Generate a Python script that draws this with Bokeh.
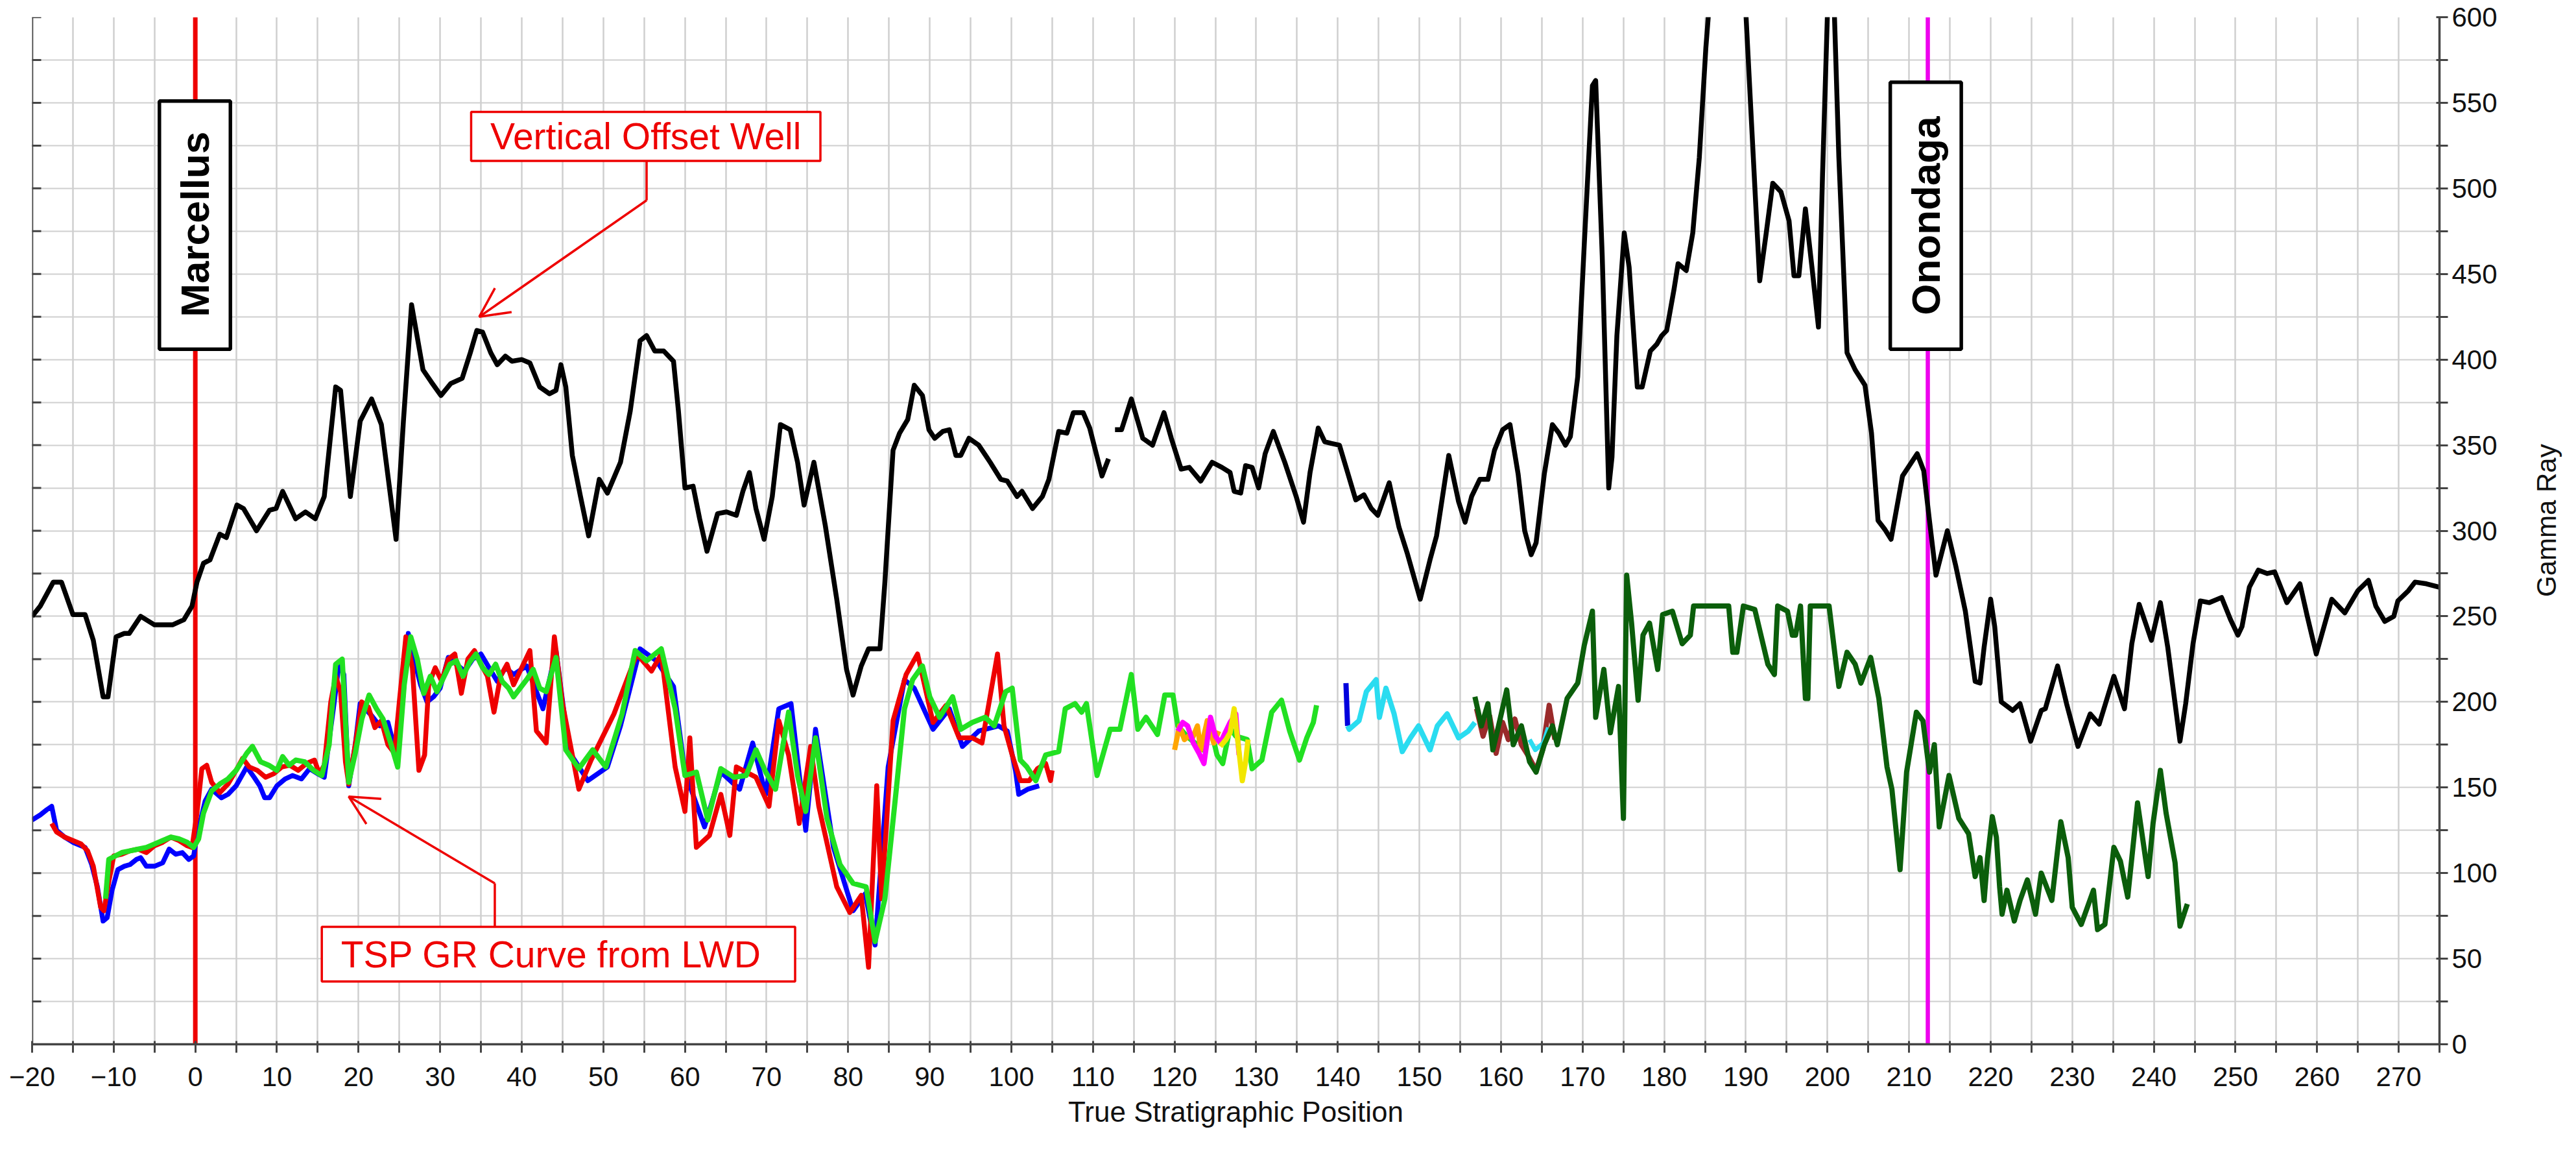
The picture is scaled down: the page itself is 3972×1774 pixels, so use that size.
import math
import numpy as np
from bokeh.plotting import figure
from bokeh.layouts import row
from bokeh.core.properties import value
from bokeh.models import (Range1d, FixedTicker, Span, Label, Arrow, OpenHead, BoxAnnotation)
from bokeh.embed import file_html
from bokeh.resources import INLINE

# ---------------- data ----------------
x_ticks = list(range(-20, 271, 10))
x_minor = list(range(-15, 276, 10))
y_ticks = list(range(0, 601, 50))
y_minor = list(range(25, 600, 50))
left_ticks = list(range(0, 601, 25))

offset_x = [-20, -19, -17.4, -16.4, -15, -13.5, -12.5, -11.3, -10.7, -9.7, -8.7, -8.1, -6.7, -5, -2.8, -1.4,
            -0.4, 0.2, 1.0, 1.8, 3.0, 3.8, 5.1, 5.9, 7.5, 9.1, 9.9, 10.7, 12.3, 13.5, 14.7, 15.8, 17.2, 17.8,
            19.0, 20.2, 21.6, 22.8, 24.6, 25.5, 26.5, 27.9, 28.9, 30.1, 31.3, 32.7, 33.7, 34.5, 35.2, 36.2,
            37.0, 38.0, 38.8, 40.0, 41.0, 42.2, 43.4, 44.2, 44.8, 45.4, 46.2, 47.2, 48.2, 49.5, 50.5, 52.1,
            53.3, 54.5, 55.3, 56.3, 57.4, 58.6, 59.2, 60.0, 61.0, 61.8, 62.7, 64.0, 65.1, 66.3, 67.1, 67.9,
            68.7, 69.7, 70.7, 71.7, 72.9, 73.8, 74.6, 75.8, 77.2, 78.6, 79.8, 80.6, 81.6, 82.5, 83.9, 84.5,
            85.5, 86.3, 87.3, 88.1, 89.1, 89.9, 90.6, 91.6, 92.4, 93.2, 93.8, 94.8, 96.0, 97.4, 98.7, 99.5,
            100.7, 101.3, 102.6, 103.8, 104.6, 105.8, 106.8, 107.6, 108.8, 109.6, 111.1, 111.9, 112.3,
            112.7, 113.5, 114.7, 116.1, 117.3, 118.7, 119.6, 120.8, 121.8, 123.2, 124.6, 125.8, 126.8,
            127.3, 128.1, 128.7, 129.5, 130.3, 131.1, 132.1, 133.5, 134.9, 135.8, 136.6, 137.6, 138.4,
            139.2, 140.2, 141.2, 142.2, 143.2, 144.1, 144.9, 146.3, 147.5, 148.5, 150.1, 151.3, 152.1,
            153.6, 154.8, 155.6, 156.4, 157.4, 158.4, 159.2, 160.2, 161.1, 162.1, 162.9, 163.7, 164.3,
            165.3, 166.3, 167.1, 167.9, 168.5, 169.4, 170.2, 171.2, 171.6, 172.4, 173.2, 173.6, 174.2,
            175.1, 175.7, 176.7, 177.3, 178.3, 179.1, 179.7, 180.3, 181.2, 181.7, 182.7, 183.5, 184.3,
            185.1, 185.8, 187.5, 189.6, 190.7, 191.7, 192.5, 193.3, 194.3, 195.3, 195.9, 196.5, 197.3,
            198.1, 198.9, 199.4, 200.0, 200.4, 200.8, 201.4, 202.4, 203.4, 204.6, 205.4, 206.2, 207.0,
            207.8, 209.2, 211.0, 211.8, 212.5, 213.3, 214.7, 215.7, 216.9, 218.1, 218.7, 219.2, 220.0,
            220.5, 221.3, 222.7, 223.6, 224.9, 226.2, 226.7, 228.2, 229.3, 230.7, 232.2, 233.3, 235.1,
            236.4, 237.3, 238.2, 239.7, 240.8, 241.7, 243.2, 243.9, 244.8, 245.7, 246.8, 248.3, 249.4,
            250.3, 250.8, 251.7, 252.8, 253.9, 254.8, 256.3, 257.9, 258.8, 259.9, 261.8, 263.4, 265.0,
            266.3, 267.2, 268.3, 269.4, 269.9, 271.2, 272.0, 273.4, 275.0]
offset_y = [250, 256, 270, 270, 251, 251, 236, 203, 203, 238, 240, 240, 250, 245, 245, 248,
            256, 270, 281, 283, 298, 296, 315, 313, 300, 312, 313, 323, 307, 311, 307, 320, 384, 382,
            320, 364, 377, 362, 295, 364, 432, 394, 387, 379, 386, 389, 404, 417, 416, 404,
            397, 402, 399, 400, 398, 384, 380, 382, 397, 384, 344, 320, 297, 330, 322, 340,
            370, 411, 414, 405, 405, 399, 370, 325, 326, 307, 288, 310, 311, 309, 323, 334,
            313, 295, 320, 362, 359, 340, 315, 340, 303, 260, 219, 204, 221, 231, 231, 270,
            347, 357, 365, 385, 379, 359, 354, 358, 359, 344, 344, 354, 350, 340, 330, 329,
            320, 323, 313, 320, 330, 358, 357, 369, 369, 360, 332, 342, float("nan"),
            359, 359, 377, 354, 350, 369, 354, 336, 337, 329, 340, 337, 334,
            323, 322, 338, 337, 325, 345, 358, 340, 320, 305, 334, 360, 352,
            351, 350, 334, 318, 321, 313, 309, 328, 302, 287, 260, 283, 297,
            344, 317, 305, 320, 330, 330, 347, 359, 362, 333, 300, 286, 293,
            333, 362, 357, 350, 355, 390, 467, 560, 563, 461, 325, 343, 414,
            474, 454, 384, 384, 405, 409, 414, 417, 441, 456, 452, 474, 518,
            582, 625, 690, 640, 538, 446, 474, 503, 498, 481, 449, 449, 488,
            454, 419, 508, 602, 660, 610, 518, 404, 394, 385, 357, 306, 301,
            295, 332, 345, 335, 306, 274, 300, 280, 253, 212, 211, 232, 260,
            244, 200, 195, 199, 177, 195, 196, 221, 199, 174, 193, 187, 215,
            196, 234, 257, 236, 258, 232, 177, 199, 234, 259, 258, 261, 248,
            239, 244, 267, 277, 275, 276, 258, 269, 250, 228, 260, 252, 265,
            271, 256, 247, 250, 259, 265, 270, 269, 267]

blue_x = [-20, -19, -18.2, -17.6, -17.0, -16, -15, -14, -13.5, -12.7, -12, -11.3, -10.8, -10.2, -9.5,
          -8.7, -8, -7.2, -6.7, -6, -5, -4, -3.2, -2.4, -1.6, -0.8, -0.2, 0.2, 1.2, 2.0, 3.2, 4.0, 5.0,
          6.3, 7.2, 7.9, 8.5, 9.1, 10.0, 11.0, 11.9, 13.0, 14.0, 15.0, 15.8, 17.0, 17.6, 18.2, 18.8,
          19.6, 20.2, 21.0, 21.6, 22.6, 23.6, 24.8, 25.4, 26.1, 26.8, 27.6, 28.4, 29.2, 30.0, 31.0,
          32.0, 33.0, 34.0, 35.0, 36.0, 37.0, 38.0, 39.0, 40.6, 42.6, 44.2, 45.8, 48.1, 50.5, 52.1,
          54.5, 56.5, 58.6, 60.0, 62.4, 64.4, 66.7, 68.3, 69.9, 71.5, 73.0, 74.8, 76.0, 78.2, 80.6,
          82.1, 83.3, 84.9, 86.9, 88.1, 90.4, 92.4, 94.0, 96.0, 98.4, 99.5, 100.5, 100.9, 102.0, 103.4]
blue_y = [131, 134, 137, 139, 125, 121, 118, 116, 115, 105, 92, 72, 74, 90, 102,
          104, 105, 108, 109, 104, 104, 106, 114, 111, 112, 108, 110, 122, 142, 149, 144, 146, 151,
          162, 156, 151, 144, 144, 151, 155, 157, 155, 161, 158, 156, 199, 222, 216, 151,
          175, 199, 195, 192, 186, 188, 166, 200, 240, 225, 210, 200, 203, 208, 226,
          222, 218, 225, 228, 220, 212, 220, 216, 221, 196, 230, 171, 154, 162, 186,
          231, 224, 209, 159, 127, 159, 149, 176, 146, 196, 199, 125, 184, 115, 78,
          88, 58, 162, 213, 208, 184, 196, 174, 183, 186, 183, 160, 146, 149, 151]

red_x = [-17.6, -17.0, -16.0, -15.0, -14.0, -13.2, -12.5, -11.6, -11.2, -10.6, -10.0, -9.0, -8.0, -7.0,
         -6.0, -5.0, -4.0, -3.0, -2.0, -1.0, -0.4, 0.2, 0.8, 1.4, 2.0, 3.0, 4.0, 5.0, 5.8, 6.6, 7.6,
         8.6, 9.6, 10.6, 11.6, 12.6, 13.6, 14.6, 15.2, 15.8, 16.6, 17.2, 17.8, 18.4, 18.8, 19.6, 20.4,
         21.2, 22.0, 22.8, 23.6, 24.4, 25.0, 25.8, 26.6, 27.4, 28.1, 28.6, 29.4, 30.2, 31.0, 31.8,
         32.6, 33.4, 34.2, 35.0, 35.8, 36.6, 37.4, 38.2, 39.0, 41.0, 41.8, 43.0, 44.0, 45.0, 47.0,
         48.5, 51.3, 54.1, 55.9, 57.1, 58.8, 60.0, 60.6, 61.4, 63.0, 64.4, 65.5, 66.3, 68.7, 70.3,
         71.5, 72.7, 74.0, 75.4, 76.4, 78.6, 80.2, 81.6, 82.5, 83.5, 84.1, 85.5, 87.1, 88.5, 90.4,
         92.0, 93.6, 95.2, 96.4, 98.3, 99.1, 100.1, 101.1, 102.2, 103.2, 104.2, 104.8, 105.0]
red_y = [129, 124, 121, 119, 117, 113, 104, 80, 78, 95, 110, 111, 113, 114,
         112, 116, 118, 121, 119, 116, 115, 135, 161, 163, 153, 147, 152, 160, 167, 162, 160,
         156, 158, 162, 163, 160, 164, 166, 158, 163, 200, 215, 206, 165, 152, 175, 200,
         197, 185, 189, 175, 170, 200, 238, 220, 160, 169, 210, 220, 212, 225, 228,
         205, 225, 230, 222, 215, 194, 215, 222, 210, 230, 183, 176, 238, 199, 149,
         166, 193, 228, 218, 228, 162, 136, 179, 115, 122, 146, 122, 162, 156, 139,
         189, 169, 129, 174, 139, 92, 77, 87, 45, 151, 85, 189, 216, 228, 188,
         198, 179, 179, 176, 228, 186, 169, 154, 154, 161, 164, 154, 160]

green_x = [-11.0, -10.6, -9.8, -9.0, -8.0, -7.0, -6.0, -5.0, -4.0, -3.0, -2.0, -1.0, -0.2, 0.4, 1.0,
           2.0, 3.0, 4.0, 5.0, 6.3, 7.0, 8.0, 9.0, 10.0, 10.7, 11.5, 12.3, 13.4, 14.5, 15.5, 16.4,
           17.2, 18.0, 18.8, 19.6, 20.4, 21.3, 22.2, 23.0, 24.0, 24.8, 25.6, 26.4, 27.2, 28.0, 28.8,
           29.6, 30.4, 31.2, 32.0, 32.8, 33.6, 34.4, 35.2, 36.0, 36.8, 37.6, 38.4, 39.0, 40.6, 41.4,
           42.2, 43.0, 44.2, 45.4, 47.0, 48.7, 50.3, 52.3, 53.9, 55.3, 57.1, 58.8, 60.0, 61.4, 62.8,
           64.4, 66.0, 67.5, 68.7, 69.9, 71.1, 72.7, 73.8, 74.8, 76.0, 77.4, 79.0, 80.6, 82.2, 83.3,
           84.5, 85.9, 86.9, 87.9, 89.1, 90.0, 91.2, 92.8, 93.8, 95.2, 96.8, 97.9, 99.3, 100.1, 101.1,
           101.9, 103.0, 104.2, 105.8, 106.6, 107.8, 108.6, 109.2, 110.5, 112.1, 113.3, 114.7, 115.5,
           116.5, 117.9, 118.8, 119.8, 120.4, 121.5, 122.5, 123.5, 124.4, 125.2, 125.9, 126.8, 127.5,
           128.9, 129.5, 130.7, 131.9, 133.1, 134.1, 135.3, 136.2, 137.0, 137.4]
green_y = [85, 108, 110, 112, 113, 114, 115, 117, 119, 121, 120, 118, 115, 120, 135,
           148, 152, 155, 160, 170, 174, 165, 163, 160, 168, 163, 166, 165, 160, 157, 175,
           222, 225, 153, 170, 190, 204, 196, 190, 175, 162, 210, 238, 225, 205, 215,
           206, 214, 222, 224, 215, 223, 228, 220, 216, 222, 212, 208, 203, 213, 219,
           208, 206, 226, 172, 161, 172, 162, 193, 230, 224, 231, 196, 157, 159, 131,
           161, 156, 157, 172, 159, 149, 194, 157, 136, 179, 132, 105, 94, 92, 60,
           85, 149, 196, 213, 221, 203, 191, 203, 184, 188, 191, 186, 206, 208, 166,
           162, 154, 169, 171, 196, 199, 194, 199, 157, 184, 184, 216, 184,
           191, 181, 204, 204, 186, 180, 176, 172, 185, 169, 164, 185, 180,
           178, 161, 166, 194, 201, 183, 166, 179, 188, 198]

orange_x = [120.0, 120.6, 121.2, 121.7, 122.2, 122.8, 123.2, 124.0, 124.8, 125.4]
orange_y = [172, 186, 178, 180, 179, 186, 172, 189, 176, 183]
magenta_x = [120.4, 121.0, 121.6, 122.3, 123.0, 123.6, 124.4, 125.0, 125.6, 126.2, 126.8, 127.5, 127.9]
magenta_y = [183, 188, 186, 176, 170, 164, 191, 180, 176, 182, 188, 193, 169]
yellow_x = [125.6, 126.3, 126.8, 127.3, 127.8, 128.3, 128.7, 129.0]
yellow_y = [174, 178, 182, 196, 175, 154, 165, 178]

navy_x = [141.0, 141.2]
navy_y = [211, 186]
cyan_x = [141.2, 141.4, 142.6, 143.5, 144.7, 145.1, 145.9, 146.9, 147.9, 148.9, 149.9, 151.3, 152.2,
          153.4, 154.8, 156.0, 156.8]
cyan_y = [186, 184, 189, 206, 213, 191, 208, 193, 171, 179, 186, 172, 186, 193, 179, 183, 188]

brown_x = [157.0, 157.8, 158.6, 159.4, 160.2, 160.9, 161.7, 162.5, 163.4, 164.3, 165.1, 165.9, 166.6]
brown_y = [196, 180, 192, 170, 188, 178, 190, 175, 168, 160, 172, 198, 178]
cyan2_x = [163.5, 164.2, 165.2, 165.8]
cyan2_y = [178, 172, 176, 185]

dkgreen_x = [156.8, 157.6, 158.4, 159.0, 159.7, 160.7, 161.5, 162.5, 163.5, 164.3, 165.3, 166.3, 166.9,
             168.1, 169.4, 170.2, 171.2, 171.6, 172.6, 173.4, 174.4, 175.0, 175.4, 176.0, 176.8, 177.4,
             178.2, 179.2, 179.8, 181.0, 182.2, 183.2, 183.6, 187.9, 188.4, 188.9, 189.7, 191.1, 192.7,
             193.5, 193.9, 195.1, 195.7, 196.1, 196.7, 197.3, 197.6, 197.9, 200.2, 201.4, 202.4, 203.4,
             204.1, 205.3, 206.3, 207.3, 207.9, 208.9, 209.7, 210.9, 211.7, 212.5, 213.1, 213.7, 214.9,
             216.1, 217.3, 218.1, 218.7, 219.2, 219.6, 220.2, 220.7, 221.1, 221.4, 222.0, 222.9, 223.6,
             224.5, 225.5, 226.2, 227.5, 228.6, 229.5, 230.0, 231.1, 232.6, 233.1, 234.0, 235.1, 235.9,
             236.8, 238.0, 239.3, 239.9, 240.8, 241.5, 242.6, 243.2, 244.1]
dkgreen_y = [203, 186, 199, 172, 186, 207, 175, 186, 165, 159, 175, 186, 175,
             202, 211, 233, 253, 191, 219, 182, 209, 132, 274, 246, 201, 239,
             246, 219, 251, 253, 234, 239, 256, 256, 229, 229, 256, 254, 222,
             216, 256, 253, 239, 239, 256, 202, 202, 256, 256, 209, 229, 222,
             211, 226, 202, 162, 149, 102, 159, 194, 189, 159, 175, 127, 157,
             132, 123, 98, 109, 84, 108, 133, 121, 92, 76, 90, 72, 84,
             96, 76, 100, 84, 130, 109, 80, 70, 90, 67, 70, 115, 107,
             86, 141, 98, 129, 160, 135, 106, 69, 82]

marker_names = ["Marcellus", "Onondaga"]
marker_pos = [0, 212.3]
y_title = "Gamma Ray"
x_title = "True Stratigraphic Position"

FONT = "Liberation Sans"
AXC = "#444444"
H = 1758

# ---------------- main figure ----------------
p = figure(width=3884, height=H, output_backend="svg", toolbar_location=None,
           x_range=Range1d(-20, 275), y_range=Range1d(0, 600), y_axis_location="right",
           min_border_left=49, min_border_right=123, min_border_top=26, min_border_bottom=149,
           title=None, outline_line_color=None, background_fill_color="white")

# grids
p.xgrid.ticker = FixedTicker(ticks=list(range(-20, 276, 5)))
p.ygrid.ticker = FixedTicker(ticks=left_ticks)
p.xgrid.grid_line_color = "#cfcfcf"
p.xgrid.grid_line_width = 2.5
p.ygrid.grid_line_color = "#cfcfcf"
p.ygrid.grid_line_width = 2.2

xa = p.xaxis[0]
xa.ticker = FixedTicker(ticks=x_ticks, minor_ticks=x_minor)
xa.axis_label = x_title
ya = p.yaxis[0]
ya.ticker = FixedTicker(ticks=y_ticks, minor_ticks=y_minor)

for ax in (xa, ya):
    ax.axis_line_color = AXC
    ax.axis_line_width = 3.5
    ax.major_tick_line_color = AXC
    ax.major_tick_line_width = 3
    ax.minor_tick_line_color = AXC
    ax.minor_tick_line_width = 3
    ax.major_tick_in = 5
    ax.major_tick_out = 13
    ax.minor_tick_in = 5
    ax.minor_tick_out = 13
    ax.major_label_text_font = FONT
    ax.major_label_text_font_size = "42px"
    ax.major_label_text_color = "#111111"
    ax.axis_label_text_font = FONT
    ax.axis_label_text_font_size = "44px"
    ax.axis_label_text_font_style = "normal"
    ax.axis_label_text_color = "#111111"
xa.major_label_standoff = 22
xa.axis_label_standoff = 12
ya.major_label_standoff = 6

# left frame edge with inward ticks
p.add_layout(Span(location=-20, dimension="height", line_color=AXC, line_width=3.5))
p.scatter([-20] * len(left_ticks), left_ticks, marker="dash", size=28, line_color=AXC,
          line_width=3)

# formation marker lines
p.add_layout(Span(location=marker_pos[0], dimension="height", line_color="#ee0000",
                  line_width=7, level="underlay"))
p.add_layout(Span(location=marker_pos[1], dimension="height", line_color="#ee00ee",
                  line_width=6.5, level="underlay"))

# curves
LW = 7.5
p.line(np.array(offset_x, dtype=float), np.array(offset_y, dtype=float), line_color="black",
       line_width=7.5, line_join="round")
p.line(blue_x, blue_y, line_color="#0000ff", line_width=LW, line_join="round")
p.line(red_x, red_y, line_color="#ee0000", line_width=LW, line_join="round")
p.line(green_x, green_y, line_color="#22e022", line_width=8, line_join="round")
p.line(orange_x, orange_y, line_color="#ffa500", line_width=8, line_join="round")
p.line(magenta_x, magenta_y, line_color="#ff00ff", line_width=8, line_join="round")
p.line(yellow_x, yellow_y, line_color="#f2e600", line_width=8, line_join="round")
p.line(navy_x, navy_y, line_color="#0000dd", line_width=8)
p.line(cyan_x, cyan_y, line_color="#2adcf0", line_width=8, line_join="round")
p.line(brown_x, brown_y, line_color="#9a2a2a", line_width=8, line_join="round")
p.line(cyan2_x, cyan2_y, line_color="#2adcf0", line_width=7, line_join="round")
p.line(dkgreen_x, dkgreen_y, line_color="#0b5e0b", line_width=8, line_join="round")

# formation boxes
box_specs = [(-4.4, 4.3, 406, 551, 479), (207.7, 216.4, 406, 562, 484)]
for name, xc, (l, r, b, t, ty) in zip(marker_names, marker_pos, box_specs):
    p.add_layout(BoxAnnotation(left=l, right=r, bottom=b, top=t, fill_color="white", fill_alpha=1,
                               line_color="black", line_width=5.5, line_alpha=1))
    p.add_layout(Label(x=(l + r) / 2, y=ty, text=name, angle=math.pi / 2, text_align="center",
                       text_baseline="middle", text_font=FONT, text_font_style="bold",
                       text_font_size="62px", text_color="black"))

# callouts
def callout(l, r, b, t, text, tx, ty, lead_x, y0, y1, tipx, tipy):
    p.add_layout(BoxAnnotation(left=l, right=r, bottom=b, top=t, fill_color="white", fill_alpha=1,
                               line_color="#ee0000", line_width=3.5, line_alpha=1))
    p.add_layout(Label(x=tx, y=ty, text=text, text_align="center", text_baseline="middle",
                       text_font=FONT, text_font_size="57px", text_color="#ee0000"))
    p.add_layout(Arrow(end=None, x_start=lead_x, y_start=y0, x_end=lead_x, y_end=y1,
                       line_color="#ee0000", line_width=3.5))
    p.add_layout(Arrow(end=OpenHead(size=45, line_color="#ee0000", line_width=3.5),
                       x_start=lead_x, y_start=y1, x_end=tipx, y_end=tipy,
                       line_color="#ee0000", line_width=3.5))

callout(33.8, 76.6, 516, 544.7, "Vertical Offset Well", 55.2, 530.3, 55.3, 516, 493, 34.8, 425)
callout(15.5, 73.5, 36.7, 68.6, "TSP GR Curve from LWD", 43.6, 52.6, 36.7, 68.6, 94, 18.8, 144.7)

# ---------------- narrow strip holding the right-hand axis title ----------------
q = figure(width=70, height=H, output_backend="svg", toolbar_location=None,
           x_range=Range1d(0, 1), y_range=p.y_range, x_axis_location=None, y_axis_location=None,
           min_border_left=0, min_border_right=0, min_border_top=26, min_border_bottom=149,
           title=None, outline_line_color=None, background_fill_color="white")
q.xgrid.visible = False
q.ygrid.visible = False
q.center = [r for r in q.center if r.__class__.__name__ != "Grid"]
q.text(x=[0.6], y=[306], text=[y_title], angle=math.pi / 2, text_align="center",
       text_baseline="middle", text_font=value(FONT), text_font_size="42px", text_color="#111111")

layout = row(p, q, spacing=0)
open("out.html", "w").write(file_html(layout, INLINE))
